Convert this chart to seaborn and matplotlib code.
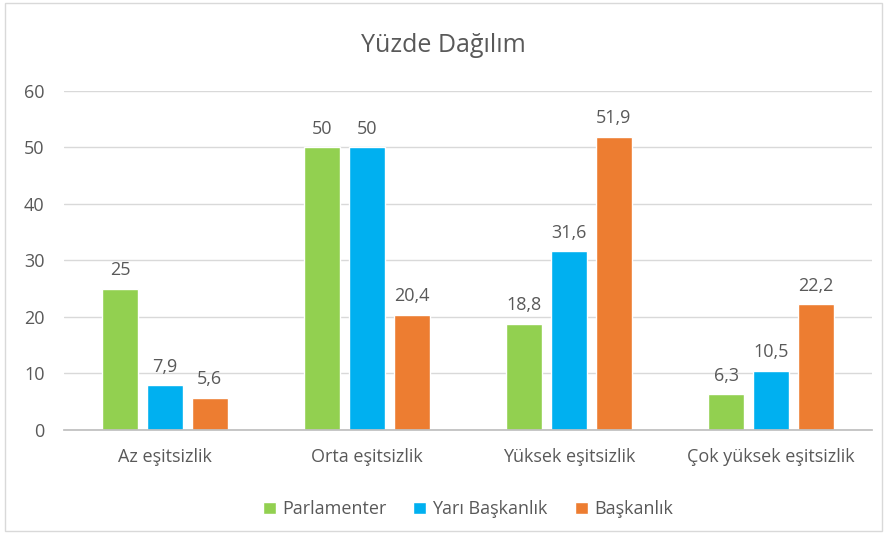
import pandas as pd
import matplotlib.pyplot as plt
import seaborn as sns
from matplotlib.patches import Rectangle

categories = ['Az eşitsizlik', 'Orta eşitsizlik', 'Yüksek eşitsizlik', 'Çok yüksek eşitsizlik']
series = ['Parlamenter', 'Yarı Başkanlık', 'Başkanlık']
parlamenter = [25, 50, 18.8, 6.3]
yari_baskanlik = [7.9, 50, 31.6, 10.5]
baskanlik = [5.6, 20.4, 51.9, 22.2]
colors = ['#92D050', '#00B0F0', '#ED7D31']

rows = []
for name, vals in zip(series, [parlamenter, yari_baskanlik, baskanlik]):
    for cat, v in zip(categories, vals):
        rows.append({'kategori': cat, 'seri': name, 'deger': v})
df = pd.DataFrame(rows)

sns.set_theme(style='white')
plt.rcParams['font.family'] = ['Open Sans', 'DejaVu Sans']
text_col = '#595959'

fig = plt.figure(figsize=(8.87, 5.34), dpi=100)
ax = fig.add_axes([0.072, 0.195, 0.911, 0.635])

sns.barplot(data=df, x='kategori', y='deger', hue='seri', palette=colors,
            width=0.665, gap=0.2, ax=ax, saturation=1, legend=True)

for cont in ax.containers:
    labels = [(f'{b.get_height():g}').replace('.', ',') for b in cont]
    ax.bar_label(cont, labels=labels, padding=7, fontsize=13, color=text_col)

ax.set_ylim(0, 60)
ax.set_yticks(range(0, 61, 10))
ax.yaxis.grid(True, color='#D9D9D9', linewidth=1)
ax.set_axisbelow(True)
for s in ['top', 'right', 'left']:
    ax.spines[s].set_visible(False)
ax.spines['bottom'].set_color('#BFBFBF')
ax.tick_params(axis='y', length=0, pad=14, labelsize=13, labelcolor=text_col)
ax.tick_params(axis='x', length=0, pad=13, labelsize=13, labelcolor=text_col)
ax.set_xlabel('')
ax.set_ylabel('')

ax.legend(loc='upper center', bbox_to_anchor=(0.5, -0.16), ncol=3, frameon=False,
          fontsize=13, labelcolor=text_col, handlelength=0.7, handleheight=0.7,
          handletextpad=0.35, columnspacing=1.5)

fig.text(0.5, 0.915, 'Yüzde Dağılım', ha='center', va='center', fontsize=18, color=text_col)
fig.patches.append(Rectangle((0.006, 0.006), 0.988, 0.988, transform=fig.transFigure,
                             fill=False, edgecolor='#D9D9D9', linewidth=1))

fig.savefig('out.png', dpi=100)
